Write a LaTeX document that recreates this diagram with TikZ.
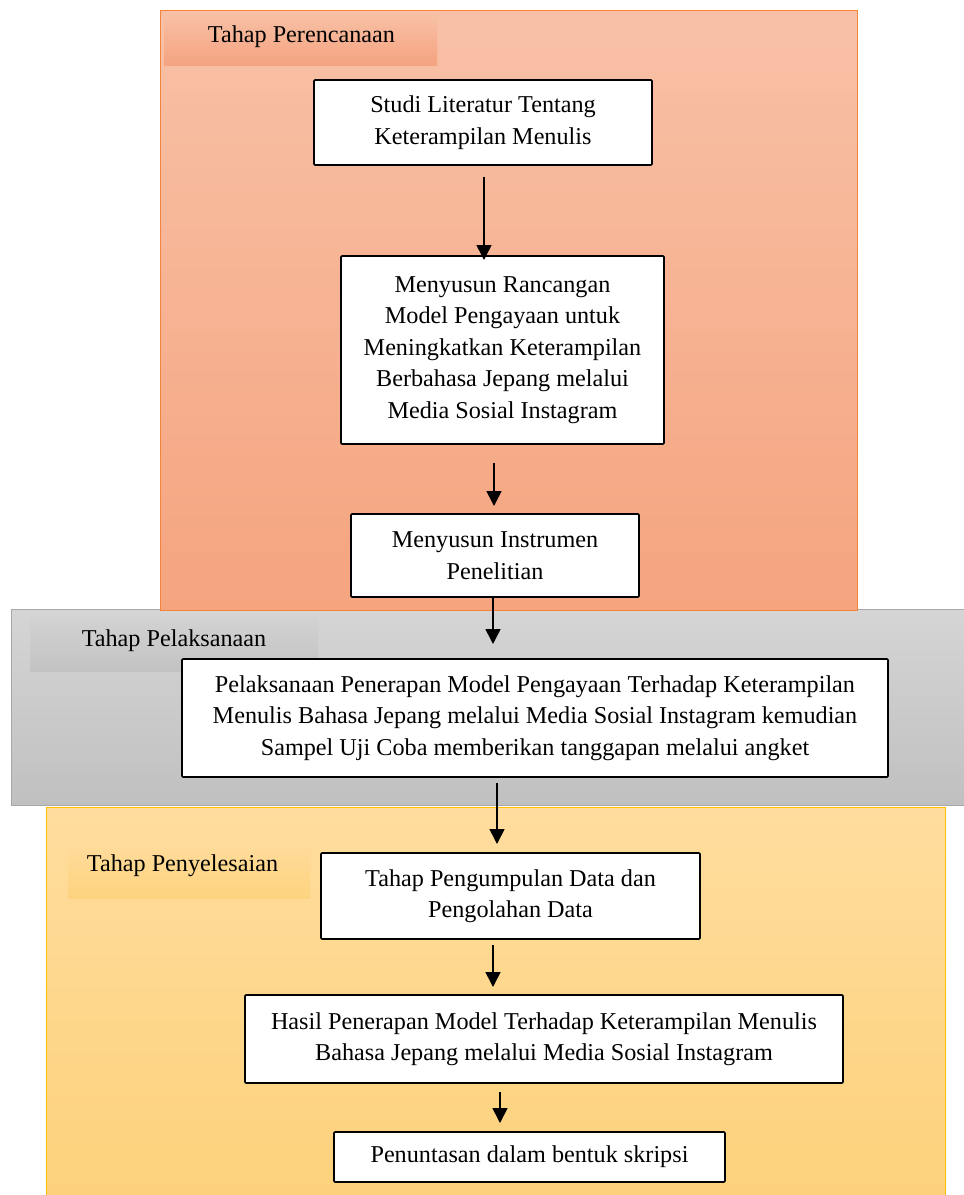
\documentclass[tikz,border=0pt]{standalone}
\usepackage{fontspec}
\setmainfont{Liberation Serif}
\usetikzlibrary{arrows.meta}
\definecolor{orT}{HTML}{F8C1A7}
\definecolor{orB}{HTML}{F5A47E}
\definecolor{orLine}{HTML}{F4843A}
\definecolor{orLT}{HTML}{F7C0A5}
\definecolor{orLB}{HTML}{F5A380}
\definecolor{grT}{HTML}{D5D5D5}
\definecolor{grB}{HTML}{C0C0C0}
\definecolor{grLine}{HTML}{A8A8A8}
\definecolor{grLT}{HTML}{D2D2D2}
\definecolor{grLB}{HTML}{C3C3C3}
\definecolor{yeT}{HTML}{FFDD9E}
\definecolor{yeB}{HTML}{FDD17B}
\definecolor{yeLine}{HTML}{FFC000}
\definecolor{yeLT}{HTML}{FFDC9C}
\definecolor{yeLB}{HTML}{FDD37E}
\tikzset{
  stepbox/.style={draw=black, line width=1.6pt, fill=white, rounded corners=1pt,
    inner sep=0pt, align=center, font=\fontsize{24.2}{31.5}\selectfont},
  phaselabel/.style={inner sep=0pt, font=\fontsize{24.2}{31.5}\selectfont},
  arr/.style={line width=1.6pt, -{Triangle[width=15pt,length=15pt]}}
}
\begin{document}
\begin{tikzpicture}[x=1pt,y=-1pt]
\useasboundingbox (0,0) rectangle (964,1195);
% gray panel
\shade[top color=grT, bottom color=grB, draw=grLine, line width=1pt] (11,609) rectangle (966,805);
\shade[top color=grLT, bottom color=grLB] (30,618) rectangle (318,671);
% orange panel
\shade[top color=orT, bottom color=orB, draw=orLine, line width=1pt] (160,10) rectangle (857,610);
\shade[top color=orLT, bottom color=orLB] (164,14) rectangle (437,65);
% yellow panel
\shade[top color=yeT, bottom color=yeB, draw=yeLine, line width=1pt] (46,807) rectangle (945,1200);
\shade[top color=yeLT, bottom color=yeLB] (68,843) rectangle (310,898);
% labels
\node[phaselabel] (l1) at (301.5,37) {Tahap Perencanaan};
\node[phaselabel] (l2) at (174,641) {Tahap Pelaksanaan};
\node[phaselabel] (l3) at (182.5,866) {Tahap Penyelesaian};
% boxes
\node[stepbox, minimum width=338pt, minimum height=85pt] (b1) at (483,122.5)
  {Studi Literatur Tentang\\Keterampilan Menulis};
\node[stepbox, minimum width=323pt, minimum height=188pt] (b2) at (502.5,350)
  {Menyusun Rancangan\\Model Pengayaan untuk\\Meningkatkan Keterampilan\\Berbahasa Jepang melalui\\Media Sosial Instagram};
\node[stepbox, minimum width=288pt, minimum height=83pt] (b3) at (495,555.5)
  {Menyusun Instrumen\\Penelitian};
\node[stepbox, minimum width=706pt, minimum height=118pt] (b4) at (535,718)
  {Pelaksanaan Penerapan Model Pengayaan Terhadap Keterampilan\\Menulis Bahasa Jepang melalui Media Sosial Instagram kemudian\\Sampel Uji Coba memberikan tanggapan melalui angket};
\node[stepbox, minimum width=379pt, minimum height=86pt] (b5) at (510.5,896)
  {Tahap Pengumpulan Data dan\\Pengolahan Data};
\node[stepbox, minimum width=598pt, minimum height=88pt] (b6) at (544,1039)
  {Hasil Penerapan Model Terhadap Keterampilan Menulis\\Bahasa Jepang melalui Media Sosial Instagram};
\node[stepbox, minimum width=391pt, minimum height=50pt] (b7) at (529.5,1157)
  {Penuntasan dalam bentuk skripsi};
% arrow start / end coordinates
\coordinate (s1) at (484,177);  \coordinate (e1) at (484,260);
\coordinate (s2) at (494,463);  \coordinate (e2) at (494,506);
\coordinate (s3) at (493,597);  \coordinate (e3) at (493,644);
\coordinate (s4) at (497,783);  \coordinate (e4) at (497,844);
\coordinate (s5) at (493,945);  \coordinate (e5) at (493,987);
\coordinate (s6) at (500,1092); \coordinate (e6) at (500,1123);
\draw[arr] (s1) -- (e1);
\draw[arr] (s2) -- (e2);
\draw[arr] (s3) -- (e3);
\draw[arr] (s4) -- (e4);
\draw[arr] (s5) -- (e5);
\draw[arr] (s6) -- (e6);
\end{tikzpicture}
\end{document}
